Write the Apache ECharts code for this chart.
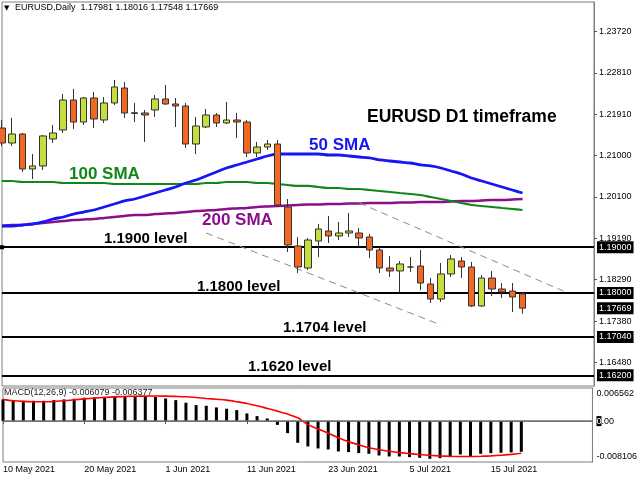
<!DOCTYPE html>
<html>
<head>
<meta charset="utf-8">
<script src="https://cdn.jsdelivr.net/npm/echarts/dist/echarts.min.js"></script>
<style>html,body{margin:0;padding:0;background:#fff;}#c{width:640px;height:480px;}</style>
</head>
<body>
<div id="c"></div>
<script>
const categories = [
 '10 May 2021','11 May 2021','12 May 2021','13 May 2021','14 May 2021','17 May 2021','18 May 2021','19 May 2021',
 '20 May 2021','21 May 2021','24 May 2021','25 May 2021','26 May 2021','27 May 2021','28 May 2021','31 May 2021',
 '1 Jun 2021','2 Jun 2021','3 Jun 2021','4 Jun 2021','7 Jun 2021','8 Jun 2021','9 Jun 2021','10 Jun 2021',
 '11 Jun 2021','14 Jun 2021','15 Jun 2021','16 Jun 2021','17 Jun 2021','18 Jun 2021','21 Jun 2021','22 Jun 2021',
 '23 Jun 2021','24 Jun 2021','25 Jun 2021','28 Jun 2021','29 Jun 2021','30 Jun 2021','1 Jul 2021','2 Jul 2021',
 '5 Jul 2021','6 Jul 2021','7 Jul 2021','8 Jul 2021','9 Jul 2021','12 Jul 2021','13 Jul 2021','14 Jul 2021',
 '15 Jul 2021','16 Jul 2021','19 Jul 2021','20 Jul 2021',
 '21 Jul 2021','22 Jul 2021','23 Jul 2021','26 Jul 2021','27 Jul 2021','28 Jul 2021','29 Jul 2021'
];
const labeledDates = ['10 May 2021','20 May 2021','1 Jun 2021','11 Jun 2021','23 Jun 2021','5 Jul 2021','15 Jul 2021'];

// [open, high, low, close]
const ohlc = [
 [1.21606,1.21781,1.21213,1.21278],[1.21278,1.21825,1.21213,1.21475],[1.21475,1.21497,1.20644,1.20710],
 [1.20710,1.21038,1.20492,1.20776],[1.20776,1.21453,1.20688,1.21432],[1.21366,1.21672,1.21278,1.21497],
 [1.21563,1.22349,1.21497,1.22218],[1.22218,1.22459,1.21584,1.21737],[1.21737,1.22284,1.21672,1.22262],
 [1.22262,1.22393,1.21606,1.21803],[1.21781,1.22284,1.21716,1.22153],[1.22153,1.22655,1.22109,1.22502],
 [1.22480,1.22612,1.21825,1.21934],[1.21925,1.22153,1.21737,1.21940],[1.21934,1.22000,1.21300,1.21890],
 [1.22000,1.22327,1.21847,1.22240],[1.22240,1.22546,1.22109,1.22131],[1.22131,1.22262,1.21628,1.22087],
 [1.22087,1.22153,1.21169,1.21256],[1.21256,1.21847,1.21038,1.21650],[1.21628,1.22022,1.21606,1.21890],
 [1.21890,1.21934,1.21628,1.21716],[1.21716,1.22175,1.21694,1.21781],[1.21781,1.21934,1.21388,1.21737],
 [1.21737,1.21781,1.20972,1.21060],[1.21060,1.21300,1.20972,1.21191],[1.21191,1.21344,1.21125,1.21256],
 [1.21256,1.21344,1.19880,1.19923],[1.19880,1.20054,1.18896,1.19049],[1.19027,1.19224,1.18436,1.18568],
 [1.18546,1.19202,1.18502,1.19158],[1.19136,1.19508,1.18786,1.19399],[1.19355,1.19683,1.19093,1.19246],
 [1.19246,1.19552,1.19158,1.19311],[1.19311,1.19749,1.19224,1.19355],[1.19311,1.19421,1.19005,1.19202],
 [1.19224,1.19289,1.18765,1.18940],[1.18940,1.19005,1.18436,1.18546],[1.18546,1.18808,1.18349,1.18481],
 [1.18481,1.18699,1.18021,1.18634],[1.18568,1.18786,1.18459,1.18568],[1.18590,1.18940,1.18065,1.18218],
 [1.18196,1.18327,1.17781,1.17868],[1.17868,1.18655,1.17803,1.18415],[1.18415,1.18830,1.18349,1.18743],
 [1.18699,1.18786,1.18327,1.18568],[1.18568,1.18677,1.17694,1.17716],[1.17716,1.18393,1.17694,1.18327],
 [1.18327,1.18480,1.17934,1.18087],[1.18087,1.18218,1.17890,1.18021],[1.18043,1.18218,1.17584,1.17912],
 [1.17981,1.18016,1.17548,1.17669]
];

const sma50 = [1.19464,1.19464,1.19486,1.19508,1.19552,1.19617,1.19661,1.19726,1.19770,1.19814,
 1.19880,1.19945,1.20011,1.20054,1.20120,1.20185,1.20251,1.20317,1.20404,1.20470,
 1.20557,1.20645,1.20732,1.20798,1.20863,1.20929,1.20994,1.21038,1.21038,1.21038,
 1.21038,1.21038,1.21016,1.21016,1.20994,1.20972,1.20951,1.20907,1.20885,1.20863,
 1.20841,1.20798,1.20776,1.20732,1.20666,1.20601,1.20513,1.20448,1.20382,1.20317,
 1.20251,1.20185];
const sma100 = [1.20448,1.20448,1.20426,1.20426,1.20426,1.20426,1.20404,1.20404,1.20404,1.20404,
 1.20404,1.20382,1.20382,1.20382,1.20382,1.20382,1.20382,1.20382,1.20382,1.20382,
 1.20404,1.20404,1.20426,1.20426,1.20426,1.20404,1.20404,1.20382,1.20360,1.20339,
 1.20339,1.20317,1.20295,1.20295,1.20273,1.20273,1.20251,1.20229,1.20207,1.20185,
 1.20164,1.20142,1.20098,1.20054,1.20011,1.19967,1.19923,1.19901,1.19880,1.19858,
 1.19836,1.19814];
const sma200 = [1.19464,1.19486,1.19486,1.19508,1.19530,1.19552,1.19573,1.19595,1.19606,1.19617,
 1.19639,1.19661,1.19683,1.19705,1.19705,1.19726,1.19737,1.19748,1.19770,1.19792,
 1.19803,1.19814,1.19836,1.19847,1.19858,1.19880,1.19891,1.19901,1.19912,1.19923,
 1.19934,1.19934,1.19945,1.19945,1.19956,1.19956,1.19967,1.19967,1.19967,1.19978,
 1.19978,1.19989,1.19989,1.19989,1.20000,1.20011,1.20011,1.20021,1.20032,1.20032,
 1.20043,1.20054];

const macdHist = [0.00430,0.00416,0.00403,0.00403,0.00403,0.00416,0.00430,0.00443,0.00463,0.00469,
 0.00482,0.00496,0.00496,0.00496,0.00482,0.00482,0.00449,0.00416,0.00364,0.00317,
 0.00304,0.00271,0.00245,0.00218,0.00152,0.00099,0.00053,-0.00075,-0.00238,-0.00430,
 -0.00502,-0.00542,-0.00562,-0.00602,-0.00615,-0.00635,-0.00648,-0.00681,-0.00701,-0.00701,
 -0.00714,-0.00727,-0.00747,-0.00734,-0.00714,-0.00661,-0.00701,-0.00648,-0.00635,-0.00628,
 -0.00621,-0.00608];
const macdSignal = [0.00425,0.00405,0.00392,0.00385,0.00383,0.00390,0.00403,0.00422,0.00440,0.00456,
 0.00469,0.00480,0.00489,0.00494,0.00496,0.00497,0.00496,0.00490,0.00482,0.00467,
 0.00449,0.00433,0.00416,0.00385,0.00350,0.00303,0.00251,0.00198,0.00139,0.00065,
 -0.00070,-0.00155,-0.00240,-0.00330,-0.00410,-0.00470,-0.00530,-0.00568,-0.00598,-0.00625,
 -0.00645,-0.00663,-0.00678,-0.00690,-0.00698,-0.00702,-0.00702,-0.00698,-0.00690,-0.00678,
 -0.00660,-0.00638];

const priceTicks = [1.2372,1.2281,1.2191,1.2100,1.2010,1.1919,1.1829,1.1738,1.1648];
const levels = [1.1900,1.1800,1.1704,1.1620];
const lastPrice = 1.17669;
const macdMax = 0.006562, macdMin = -0.008106;
const macdTickText = ['0.006562', '0.00', '-0.008106'];
// trend channel endpoints: [category index, price]
const upperTrend = [[35,1.19967],[55,1.18044]];
const lowerTrend = [[20,1.19311],[43,1.17300]];

const FONT = 'Liberation Sans, Arial, DejaVu Sans, sans-serif';
const BULL = '#C6DE3D', BEAR = '#F26722';

const chart = echarts.init(document.getElementById('c'), null, {renderer:'canvas'});

const candleData = ohlc.map(d => [d[0], d[3], d[2], d[1]]);

const boxLabel = (txt) => ({
  show: true, position: 'end', distance: 3, formatter: txt,
  color: '#fff', backgroundColor: '#000', padding: [2, 2, 1, 2],
  fontSize: 9, fontFamily: FONT, opacity: 1
});

const markLineData = levels.map((v, i) => {
  const item = {yAxis: v, label: boxLabel(v.toFixed(5)), lineStyle: {color: '#000', width: 2, type: 'solid'}};
  if (i === 0) { item.symbol = ['rect', 'rect']; item.symbolSize = 4; }
  return item;
});
markLineData.push({yAxis: lastPrice, label: boxLabel(lastPrice.toFixed(5)),
  lineStyle: {color: 'rgba(255,255,255,0)', width: 1, type: 'solid'}});
[upperTrend, lowerTrend].forEach(t => {
  markLineData.push([
    {coord: t[0], lineStyle: {color: '#8a8a8a', width: 1, type: [7, 5]}, label: {show: false}},
    {coord: t[1]}
  ]);
});

const showLabel = (idx) => labeledDates.indexOf(categories[idx]) >= 0;

// MACD scale labels sit just inside the panel edges (text centres), zero in the middle
const macdPx = 74 / (macdMax - macdMin);
const macdLabelVals = [macdMax - 6 / macdPx, 0, macdMin + 5 / macdPx];

const textEl = (txt, x, y, color, size) => ({
  type: 'text', x: x, y: y, z: 100,
  style: {text: txt, fill: color, font: 'bold ' + size + 'px ' + FONT, textVerticalAlign: 'middle', verticalAlign: 'middle'}
});

const option = {
  animation: false,
  backgroundColor: '#fff',
  grid: [
    {left: 2, top: 2, width: 592, height: 384, show: true, borderColor: '#7f7f7f', borderWidth: 1, backgroundColor: '#fff'},
    {left: 2, top: 388, width: 592, height: 74, show: true, borderColor: '#7f7f7f', borderWidth: 1, backgroundColor: '#fff'}
  ],
  xAxis: [
    {type: 'category', gridIndex: 0, data: categories, boundaryGap: false,
     axisLine: {show: false}, axisTick: {show: false}, axisLabel: {show: false}, splitLine: {show: false}},
    {type: 'category', gridIndex: 1, data: categories, boundaryGap: false,
     axisLine: {show: true, lineStyle: {color: '#7f7f7f'}},
     axisTick: {show: true, interval: (idx) => showLabel(idx), length: 3, lineStyle: {color: '#555'}},
     axisLabel: {show: true, interval: (idx) => showLabel(idx), align: 'left', margin: 3,
       color: '#000', fontSize: 9, fontFamily: FONT},
     splitLine: {show: false}}
  ],
  yAxis: [
    {type: 'value', gridIndex: 0, position: 'right', min: 1.15967, max: 1.24360, scale: true,
     axisLine: {show: true, lineStyle: {color: '#7f7f7f'}},
     axisTick: {show: true, length: 3, customValues: priceTicks, lineStyle: {color: '#555'}},
     axisLabel: {show: true, customValues: priceTicks, formatter: (v) => v.toFixed(5), margin: 5,
       color: '#000', fontSize: 9, fontFamily: FONT},
     splitLine: {show: false}},
    {type: 'value', gridIndex: 1, position: 'right', min: macdMin, max: macdMax,
     axisLine: {show: true, lineStyle: {color: '#7f7f7f'}},
     axisTick: {show: false},
     axisLabel: {show: true, customValues: macdLabelVals, margin: 4, color: '#000', fontSize: 9, fontFamily: FONT,
       showMinLabel: true, showMaxLabel: true,
       formatter: (v) => v === 0 ? '{b|0}.00' : (v > 0 ? macdTickText[0] : macdTickText[2]),
       rich: {b: {backgroundColor: '#000', color: '#fff', fontSize: 9, fontFamily: FONT, padding: [1, 0, 0, 0]}}},
     splitLine: {show: false}}
  ],
  series: [
    {name: 'SMA200', type: 'line', xAxisIndex: 0, yAxisIndex: 0, data: sma200, symbol: 'none', smooth: 0.3,
     lineStyle: {color: '#8B0F8B', width: 2.5}, z: 2},
    {name: 'SMA100', type: 'line', xAxisIndex: 0, yAxisIndex: 0, data: sma100, symbol: 'none', smooth: 0.3,
     lineStyle: {color: '#12861B', width: 2.2}, z: 2},
    {name: 'SMA50', type: 'line', xAxisIndex: 0, yAxisIndex: 0, data: sma50, symbol: 'none', smooth: 0.3,
     lineStyle: {color: '#1515F5', width: 2.8}, z: 2},
    {name: 'EURUSD', type: 'candlestick', xAxisIndex: 0, yAxisIndex: 0, data: candleData, barWidth: 7, z: 4,
     itemStyle: {color: BULL, color0: BEAR, borderColor: '#333', borderColor0: '#333', borderWidth: 1},
     markLine: {silent: true, symbol: ['none', 'none'], precision: 5, animation: false, z: 3, data: markLineData}},
    {name: 'MACD', type: 'bar', xAxisIndex: 1, yAxisIndex: 1, data: macdHist, barWidth: 3,
     itemStyle: {color: '#000'}, z: 2,
     markLine: {silent: true, symbol: ['none', 'none'], precision: 6, animation: false, label: {show: false},
       lineStyle: {color: '#6f6f6f', width: 1.5, type: 'solid'}, data: [{yAxis: 0}]}},
    {name: 'Signal', type: 'line', xAxisIndex: 1, yAxisIndex: 1, data: macdSignal, symbol: 'none', smooth: 0.3,
     lineStyle: {color: '#FF0000', width: 1.6}, z: 3}
  ],
  graphic: [
    {type: 'text', x: 4, y: 8, z: 100,
     style: {text: '\u25BC', fill: '#000', font: '7px DejaVu Sans, sans-serif', textVerticalAlign: 'middle', verticalAlign: 'middle'}},
    {type: 'text', x: 15, y: 8, z: 100,
     style: {text: 'EURUSD,Daily  1.17981 1.18016 1.17548 1.17669', fill: '#000', font: '9px ' + FONT, textVerticalAlign: 'middle', verticalAlign: 'middle'}},
    {type: 'text', x: 4, y: 393, z: 100,
     style: {text: 'MACD(12,26,9) -0.006079 -0.006377', fill: '#222', font: '9px ' + FONT, textVerticalAlign: 'middle', verticalAlign: 'middle'}},
    textEl('EURUSD D1 timeframe', 367, 117, '#000', 17.5),
    textEl('50 SMA', 309, 145, '#1515F5', 17),
    textEl('100 SMA', 69, 174, '#12861B', 17),
    textEl('200 SMA', 202, 220, '#8B0F8B', 17),
    textEl('1.1900 level', 104, 239, '#000', 15),
    textEl('1.1800 level', 197, 287, '#000', 15),
    textEl('1.1704 level', 283, 328, '#000', 15),
    textEl('1.1620 level', 248, 367, '#000', 15)
  ]
};
chart.setOption(option);
</script>
</body>
</html>
